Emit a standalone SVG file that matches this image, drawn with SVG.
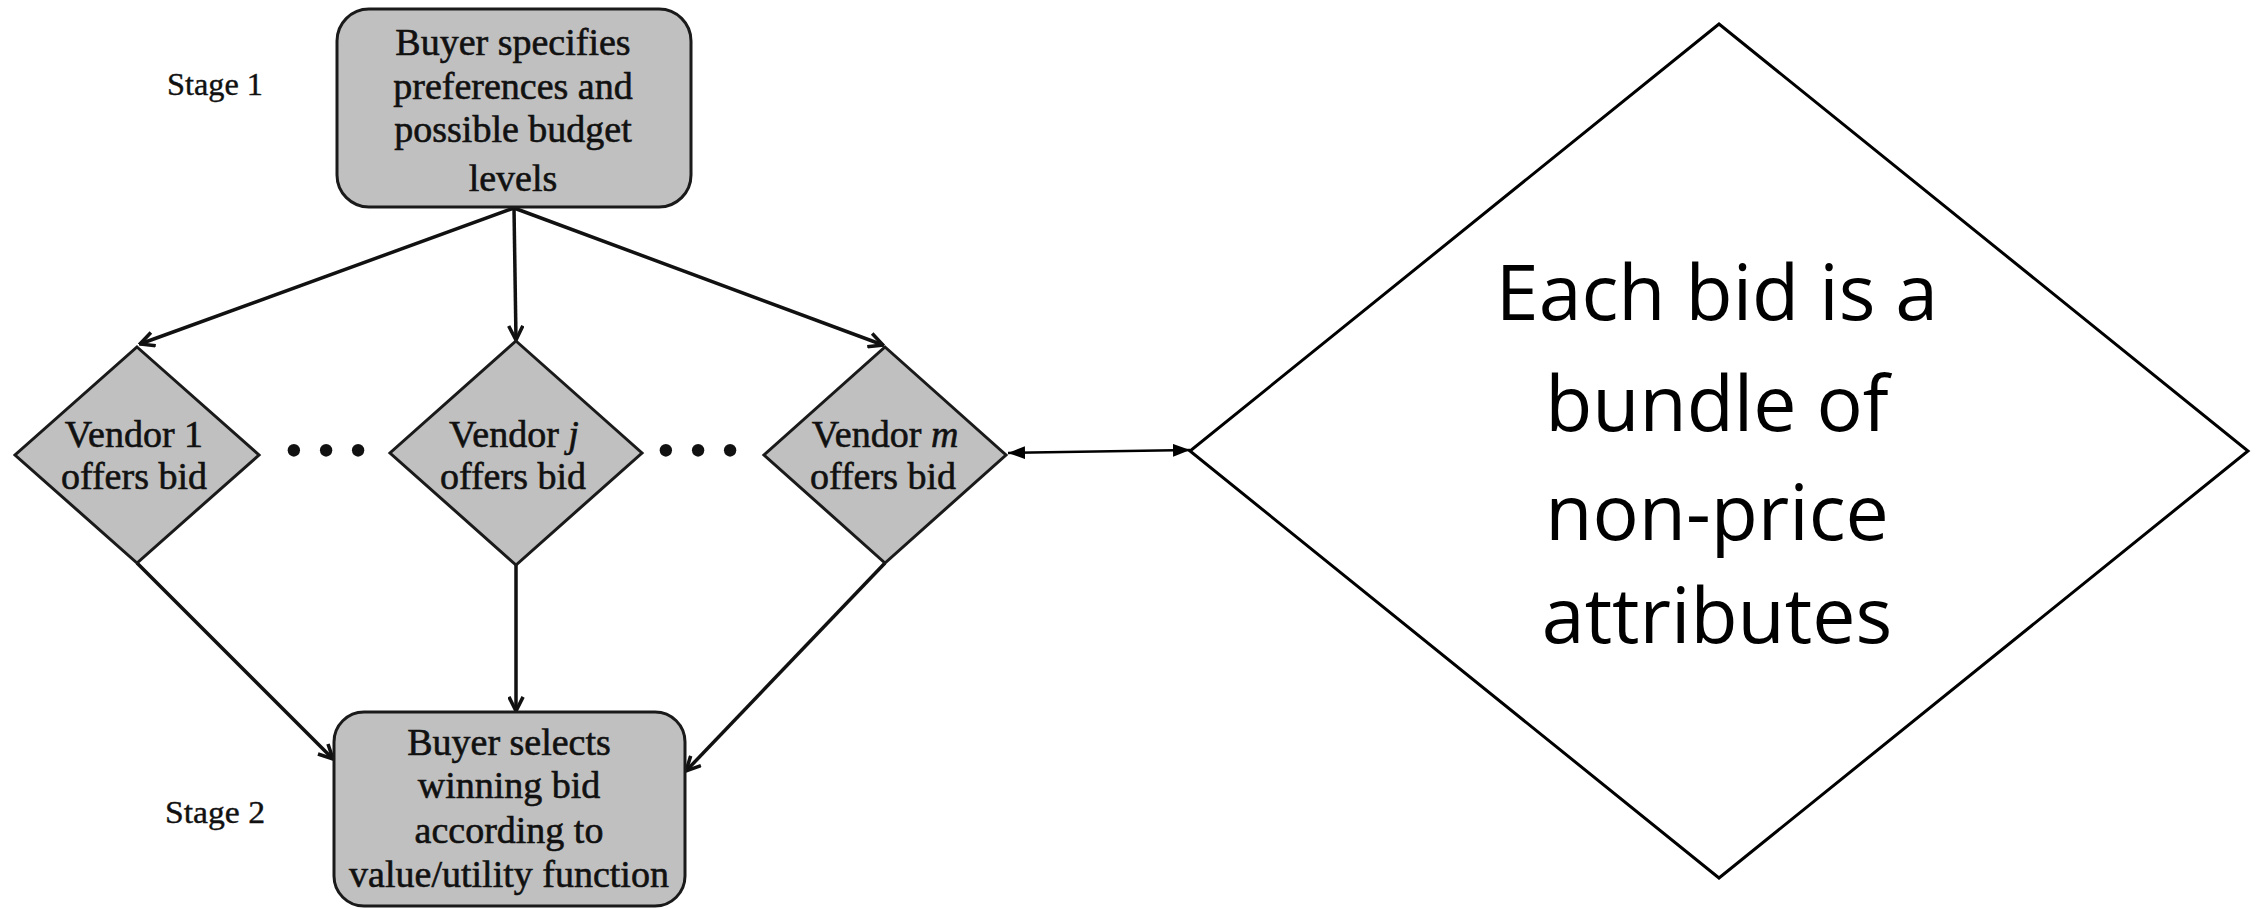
<svg xmlns="http://www.w3.org/2000/svg" width="2263" height="909" viewBox="0 0 2263 909">
<defs>
<style>
.box{fill:#c0c0c0;stroke:#1a1a1a;stroke-width:3}
.dia{fill:#c0c0c0;stroke:#1a1a1a;stroke-width:3}
.big{fill:#ffffff;stroke:#000;stroke-width:3}
.t{font-family:"Liberation Serif","Times New Roman",serif;font-size:38px;fill:#111;stroke:#111;stroke-width:0.6;text-anchor:middle}
.stage{font-family:"Liberation Serif","Times New Roman",serif;font-size:31px;fill:#111;stroke:#111;stroke-width:0.4}
.big-t{font-family:"Open Sans","Noto Sans",sans-serif;font-size:77px;fill:#000;text-anchor:middle}
.dots{font-family:"Liberation Serif",serif;font-size:52px;fill:#111;text-anchor:middle;letter-spacing:14px}
.c{stroke:#111;stroke-width:3.5;fill:none}
.c2{stroke:#000;stroke-width:2.5;fill:none}
</style>
<marker id="arr" viewBox="0 0 12 12" refX="11" refY="6" markerWidth="17" markerHeight="17" markerUnits="userSpaceOnUse" orient="auto">
<path d="M1,1 L11,6 L1,11" fill="none" stroke="#111" stroke-width="2.5"/>
</marker>
<marker id="fa" viewBox="0 0 16 12" refX="16" refY="6" markerWidth="17" markerHeight="13" markerUnits="userSpaceOnUse" orient="auto-start-reverse">
<path d="M0,0 L16,6 L0,12 Z" fill="#000"/>
</marker>
</defs>

<g id="connectors">
<line class="c" x1="514" y1="208" x2="140" y2="344" marker-end="url(#arr)"/>
<line class="c" x1="514" y1="208" x2="516" y2="340" marker-end="url(#arr)"/>
<line class="c" x1="514" y1="208" x2="883" y2="345" marker-end="url(#arr)"/>
<line class="c" x1="137" y1="563" x2="333" y2="759" marker-end="url(#arr)"/>
<line class="c" x1="516" y1="565" x2="516" y2="711" marker-end="url(#arr)"/>
<line class="c" x1="885" y1="563" x2="686" y2="771" marker-end="url(#arr)"/>
<line class="c2" x1="1008" y1="453" x2="1190" y2="450" marker-start="url(#fa)" marker-end="url(#fa)"/>
</g>

<g id="stage1"><text class="stage" x="167" y="95" textLength="96" lengthAdjust="spacingAndGlyphs">Stage 1</text></g>
<g id="stage2"><text class="stage" x="165" y="823" textLength="100" lengthAdjust="spacingAndGlyphs">Stage 2</text></g>

<g id="buyer-specifies">
<rect class="box" x="337" y="9" width="354" height="198" rx="32" ry="32"/>
<text class="t" x="513" y="55">Buyer specifies</text>
<text class="t" x="513" y="99">preferences and</text>
<text class="t" x="513" y="142">possible budget</text>
<text class="t" x="513" y="191">levels</text>
</g>

<g id="vendor-1">
<polygon class="dia" points="137,347 259,455 137,563 15,455"/>
<text class="t" x="134" y="447">Vendor 1</text>
<text class="t" x="134" y="489">offers bid</text>
</g>

<g id="dots-1"><text class="dots" x="333" y="468">•••</text></g>

<g id="vendor-j">
<polygon class="dia" points="516,341 642,453 516,565 390,453"/>
<text class="t" x="514" y="447">Vendor <tspan font-style="italic">j</tspan></text>
<text class="t" x="513" y="489">offers bid</text>
</g>

<g id="dots-2"><text class="dots" x="705" y="468">•••</text></g>

<g id="vendor-m">
<polygon class="dia" points="885,347 1006,455 885,563 764,455"/>
<text class="t" x="885" y="447">Vendor <tspan font-style="italic">m</tspan></text>
<text class="t" x="883" y="489">offers bid</text>
</g>

<g id="buyer-selects">
<rect class="box" x="334" y="712" width="351" height="194" rx="30" ry="30"/>
<text class="t" x="509" y="755">Buyer selects</text>
<text class="t" x="509" y="798">winning bid</text>
<text class="t" x="509" y="843">according to</text>
<text class="t" x="509" y="887">value/utility function</text>
</g>

<g id="bid-bundle">
<polygon class="big" points="1719,24 2248,451 1719,878 1190,451"/>
<text class="big-t" x="1717" y="320">Each bid is a</text>
<text class="big-t" x="1717" y="431">bundle of</text>
<text class="big-t" x="1717" y="540">non-price</text>
<text class="big-t" x="1717" y="643">attributes</text>
</g>
</svg>
